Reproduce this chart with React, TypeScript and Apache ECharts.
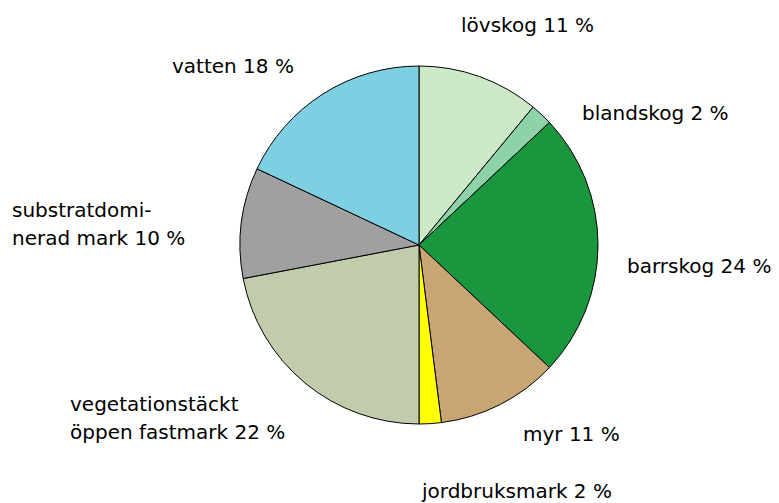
import React, { useEffect, useRef } from "react";
import * as echarts from "echarts";

const categories = [
  "lövskog",
  "blandskog",
  "barrskog",
  "myr",
  "jordbruksmark",
  "vegetationstäckt\nöppen fastmark",
  "substratdomi-\nnerad mark",
  "vatten",
];
const shares = [11, 2, 24, 11, 2, 22, 10, 18];
const colors = [
  "#cde9c7",
  "#8ed2a9",
  "#1a963e",
  "#c7a673",
  "#ffff00",
  "#c1ccad",
  "#a0a0a0",
  "#7dcfe1",
];
// label anchor points (left x, middle y)
const labelPos: [number, number][] = [
  [461, 25],
  [582, 113],
  [627, 266],
  [523, 434],
  [422, 491],
  [70, 418],
  [12, 224],
  [172, 66],
];

export default function App() {
  const ref = useRef<HTMLDivElement>(null);
  useEffect(() => {
    if (!ref.current) return;
    const chart = echarts.init(ref.current, undefined, { renderer: "svg" });
    chart.setOption({
      animation: false,
      backgroundColor: "#ffffff",
      series: [
        {
          type: "pie",
          center: [419, 245],
          radius: 179,
          startAngle: 90,
          clockwise: true,
          avoidLabelOverlap: false,
          silent: true,
          data: categories.map((name, i) => ({
            name,
            value: shares[i],
            itemStyle: { color: colors[i] },
          })),
          itemStyle: { borderColor: "#000000", borderWidth: 1 },
          label: {
            show: true,
            formatter: "{b} {c} %",
            color: "#000000",
            fontFamily: "DejaVu Sans",
            fontSize: 20,
            lineHeight: 28,
          },
          labelLine: { show: false },
          labelLayout: (params: any) => {
            const p = labelPos[params.dataIndex];
            return {
              x: p[0],
              y: p[1],
              align: "left",
              verticalAlign: "middle",
            };
          },
        },
      ],
    });
    return () => chart.dispose();
  }, []);
  return (
    <div
      ref={ref}
      style={{ width: 779, height: 503, position: "absolute", left: 0, top: 0 }}
    />
  );
}
